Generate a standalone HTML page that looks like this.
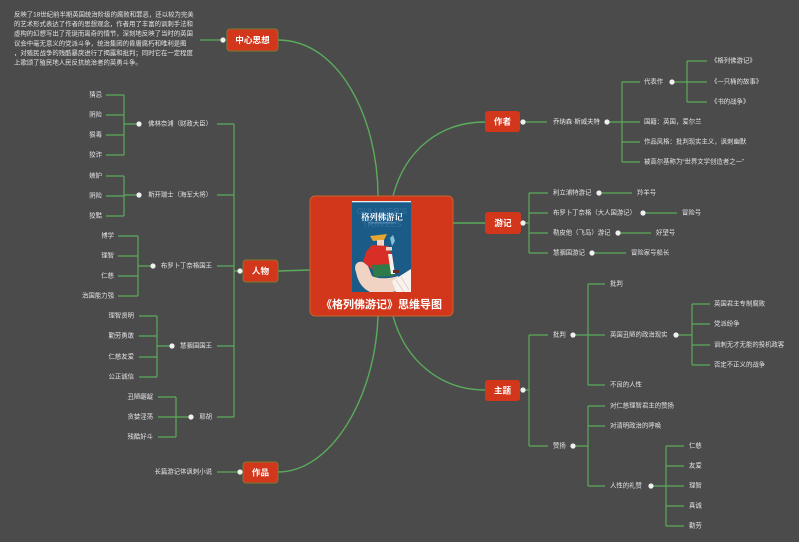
<!DOCTYPE html>
<html><head><meta charset="utf-8">
<style>
html,body{margin:0;padding:0;background:#4b4b4b;}
svg{display:block;}
text{font-family:"Liberation Sans","Noto Sans CJK SC",sans-serif;}
.t{font-size:6.4px;fill:#e4e4e4;dominant-baseline:central;}
.e{text-anchor:end;}
.m{font-size:8.6px;font-weight:bold;fill:#ffffff;text-anchor:middle;dominant-baseline:central;}
</style></head><body>
<svg width="799" height="542" viewBox="0 0 799 542" xmlns="http://www.w3.org/2000/svg">
<rect width="799" height="542" fill="#4b4b4b"/>

<!-- main curves -->
<g stroke="#5bab5b" stroke-width="1.4" fill="none">
<path d="M278,40 C340,40 378,120 378,196"/>
<path d="M393,196 C405,150 440,122 485,122"/>
<path d="M453,223 L485,223"/>
<path d="M393,316 C405,360 440,390 485,390"/>
<path d="M378,316 C375,400 330,472 278,472"/>
<path d="M310,270 L278,271"/>
</g>

<!-- branch lines -->
<g stroke="#5bab5b" stroke-width="1.2" fill="none">
<path d="M200,40 H223"/>
<path d="M234,124 V417 M217,124 H234 M217,195 H234 M217,266 H234 M217,346 H234 M217,417 H234 M234,271 H240"/>
<path d="M124,95 V155 M106,95 H124 M106,115 H124 M106,135 H124 M106,155 H124 M124,124 H139"/>
<path d="M124,176 V216 M106,176 H124 M106,196 H124 M106,216 H124 M124,195 H139"/>
<path d="M138,236 V296 M118,236 H138 M118,256 H138 M118,276 H138 M118,296 H138 M138,266 H153"/>
<path d="M157,316 V377 M139,316 H157 M139,336 H157 M139,357 H157 M139,377 H157 M157,346 H172"/>
<path d="M176,397 V437 M158,397 H176 M158,417 H176 M158,437 H176 M176,417 H191"/>
<path d="M217,472 H240"/>

<path d="M523,122 H547 M607,122 H622 M622,82 V162 M622,82 H640 M622,122 H640 M622,142 H640 M622,162 H640"/>
<path d="M672,82 H687 M687,61 V102 M687,61 H707 M687,82 H707 M687,102 H707"/>
<path d="M523,223 H529 M529,193 V253 M529,193 H548 M529,213 H548 M529,233 H548 M529,253 H548"/>
<path d="M599,193 H632 M643,213 H677 M618,233 H651 M592,253 H626"/>
<path d="M523,390 H529 M529,335 V446 M529,335 H548 M529,446 H548"/>
<path d="M573,335 H588 M588,284 V385 M588,284 H605 M588,335 H605 M588,385 H605"/>
<path d="M676,335 H692 M692,304 V365 M692,304 H710 M692,324 H710 M692,345 H710 M692,365 H710"/>
<path d="M573,446 H588 M588,406 V486 M588,406 H605 M588,426 H605 M588,486 H605"/>
<path d="M651,486 H666 M666,446 V526 M666,446 H684 M666,466 H684 M666,486 H684 M666,506 H684 M666,526 H684"/>
</g>

<!-- center node -->
<rect x="310" y="196" width="143" height="120" rx="5" fill="#d2361b" stroke="#c4652c" stroke-width="1"/>
<!-- book cover -->
<rect x="352" y="201" width="59" height="91" fill="#1b5b87"/>
<rect x="352" y="201" width="59" height="1.3" fill="#e6eef4"/>
<text x="382" y="214" font-size="8.5" font-weight="bold" fill="#2e6c99" text-anchor="middle" style="font-family:'Liberation Sans',sans-serif">GULLIVER'S</text>
<text x="382" y="227" font-size="8.5" font-weight="bold" fill="#2e6c99" text-anchor="middle" style="font-family:'Liberation Sans',sans-serif">TRAVELS</text>
<text x="382" y="220" font-size="8.4" font-weight="bold" fill="#ffffff" text-anchor="middle" style="font-family:'Noto Serif CJK SC','Noto Sans CJK SC',serif">格列佛游记</text>
<rect x="368" y="222.5" width="28" height="0.8" fill="#6f9fc2"/>
<!-- hand -->
<path d="M356,272 C352,262 362,258 368,266 L372,276 C380,280 392,278 398,276 L404,290 L392,292 L370,292 C362,288 358,282 356,272 Z" fill="#f1d3c3"/>
<path d="M392,281 L411,269 L411,292 L396,292 Z" fill="#f6f2ee"/>
<path d="M396,280 L404,292 M401,277 L409,290" stroke="#e3b7b0" stroke-width="0.6"/>
<!-- figure -->
<path d="M370,236 L387,234 L384,240 L373,241 Z" fill="#e7a531"/>
<rect x="377" y="240" width="7" height="6" fill="#f1d3c3"/>
<path d="M366,252 L372,245 L388,246 L393,258 L390,268 L373,270 L363,262 Z" fill="#d72e26"/>
<path d="M372,265 L392,264 L394,276 L374,277 Z" fill="#2e7a48"/>
<path d="M388,254 L392,254 L395,274 L391,274 Z" fill="#f4f0ea"/>
<rect x="386" y="247" width="6" height="3.5" fill="#f1d3c3"/>
<path d="M390,238 L393,235 L395,241 L392,246 Z" fill="#7fc3d6"/>
<rect x="393" y="270" width="6" height="3" fill="#6b2a1e"/>
<text x="381.5" y="305" font-size="11" font-weight="bold" fill="#ffffff" text-anchor="middle" dominant-baseline="central">《格列佛游记》思维导图</text>

<!-- main nodes -->
<rect x="227" y="29" width="51" height="22" rx="3" fill="#d2361b" stroke="#7f7a2c" stroke-width="1"/>
<text class="m" x="252.5" y="40">中心思想</text>
<rect x="485" y="111" width="35" height="21" rx="3" fill="#d2361b"/>
<text class="m" x="502.5" y="121.5">作者</text>
<rect x="485" y="212" width="36" height="22" rx="3" fill="#d2361b"/>
<text class="m" x="503" y="223">游记</text>
<rect x="485" y="380" width="35" height="21" rx="3" fill="#d2361b"/>
<text class="m" x="502.5" y="390.5">主题</text>
<rect x="243" y="260" width="35" height="22" rx="3" fill="#d2361b" stroke="#7f7a2c" stroke-width="1"/>
<text class="m" x="260.5" y="271">人物</text>
<rect x="243" y="462" width="35" height="21" rx="3" fill="#d2361b" stroke="#7f7a2c" stroke-width="1"/>
<text class="m" x="260.5" y="472.5">作品</text>

<!-- dots -->
<g fill="#f0f0f0">
<circle cx="223" cy="40" r="2.6"/>
<circle cx="240" cy="271" r="2.6"/>
<circle cx="240" cy="472" r="2.6"/>
<circle cx="139" cy="124" r="2.6"/>
<circle cx="139" cy="195" r="2.6"/>
<circle cx="153" cy="266" r="2.6"/>
<circle cx="172" cy="346" r="2.6"/>
<circle cx="191" cy="417" r="2.6"/>
<circle cx="523" cy="122" r="2.6"/>
<circle cx="607" cy="122" r="2.6"/>
<circle cx="672" cy="82" r="2.6"/>
<circle cx="523" cy="223" r="2.6"/>
<circle cx="599" cy="193" r="2.6"/>
<circle cx="643" cy="213" r="2.6"/>
<circle cx="618" cy="233" r="2.6"/>
<circle cx="592" cy="253" r="2.6"/>
<circle cx="523" cy="390" r="2.6"/>
<circle cx="573" cy="335" r="2.6"/>
<circle cx="676" cy="335" r="2.6"/>
<circle cx="573" cy="446" r="2.6"/>
<circle cx="651" cy="486" r="2.6"/>
</g>

<!-- paragraph -->
<text class="t" x="14" y="15">反映了18世纪前半期英国统治阶级的腐败和罪恶，还以较为完美</text>
<text class="t" x="14" y="24.6">的艺术形式表达了作者的思想观念，作者用了丰富的讽刺手法和</text>
<text class="t" x="14" y="34.2">虚构的幻想写出了荒诞而离奇的情节，深刻地反映了当时的英国</text>
<text class="t" x="14" y="43.8">议会中毫无意义的党派斗争，统治集团的昏庸腐朽和唯利是图</text>
<text class="t" x="14" y="53.4">，对殖民战争的残酷暴戾进行了揭露和批判；同时它在一定程度</text>
<text class="t" x="14" y="63">上歌颂了殖民地人民反抗统治者的英勇斗争。</text>

<!-- left labels -->
<text class="t e" x="212" y="124">佛林奈浦（财政大臣）</text>
<text class="t e" x="212" y="195">斯开瑞士（海军大将）</text>
<text class="t e" x="212" y="266">布罗卜丁奈格国王</text>
<text class="t e" x="212" y="346">慧骃国国王</text>
<text class="t e" x="212" y="417">耶胡</text>
<text class="t e" x="212" y="472">长篇游记体讽刺小说</text>

<text class="t e" x="102" y="95">猜忌</text>
<text class="t e" x="102" y="115">阴险</text>
<text class="t e" x="102" y="135">狠毒</text>
<text class="t e" x="102" y="155">狡诈</text>
<text class="t e" x="102" y="176">嫉妒</text>
<text class="t e" x="102" y="196">阴险</text>
<text class="t e" x="102" y="216">狡黠</text>
<text class="t e" x="114" y="236">博学</text>
<text class="t e" x="114" y="256">理智</text>
<text class="t e" x="114" y="276">仁慈</text>
<text class="t e" x="114" y="296">治国能力强</text>
<text class="t e" x="134" y="316">理智贤明</text>
<text class="t e" x="134" y="336">勤劳勇敢</text>
<text class="t e" x="134" y="357">仁慈友爱</text>
<text class="t e" x="134" y="377">公正诚信</text>
<text class="t e" x="153" y="397">丑陋龌龊</text>
<text class="t e" x="153" y="417">贪婪淫荡</text>
<text class="t e" x="153" y="437">残酷好斗</text>

<!-- 作者 labels -->
<text class="t" x="553" y="122">乔纳森·斯威夫特</text>
<text class="t" x="644" y="82">代表作</text>
<text class="t" x="644" y="122">国籍：英国，爱尔兰</text>
<text class="t" x="644" y="142">作品风格：批判现实主义，讽刺幽默</text>
<text class="t" x="644" y="162">被高尔基称为“世界文学创造者之一”</text>
<text class="t" x="711" y="61">《格列佛游记》</text>
<text class="t" x="711" y="82">《一只桶的故事》</text>
<text class="t" x="711" y="102">《书的战争》</text>

<!-- 游记 labels -->
<text class="t" x="553" y="193">利立浦特游记</text>
<text class="t" x="553" y="213">布罗卜丁奈格（大人国游记）</text>
<text class="t" x="553" y="233">勒皮他（飞岛）游记</text>
<text class="t" x="553" y="253">慧骃国游记</text>
<text class="t" x="637" y="193">羚羊号</text>
<text class="t" x="682" y="213">冒险号</text>
<text class="t" x="656" y="233">好望号</text>
<text class="t" x="631" y="253">冒险家号船长</text>

<!-- 主题 labels -->
<text class="t" x="553" y="335">批判</text>
<text class="t" x="610" y="284">批判</text>
<text class="t" x="610" y="335">英国丑陋的政治现实</text>
<text class="t" x="610" y="385">不良的人性</text>
<text class="t" x="714" y="304">英国君主专制腐败</text>
<text class="t" x="714" y="324">党派纷争</text>
<text class="t" x="714" y="345">讽刺无才无能的投机政客</text>
<text class="t" x="714" y="365">否定不正义的战争</text>
<text class="t" x="553" y="446">赞扬</text>
<text class="t" x="610" y="406">对仁慈理智君主的赞扬</text>
<text class="t" x="610" y="426">对清明政治的呼唤</text>
<text class="t" x="610" y="486">人性的礼赞</text>
<text class="t" x="689" y="446">仁慈</text>
<text class="t" x="689" y="466">友爱</text>
<text class="t" x="689" y="486">理智</text>
<text class="t" x="689" y="506">真诚</text>
<text class="t" x="689" y="526">勤劳</text>
</svg>
</body></html>
